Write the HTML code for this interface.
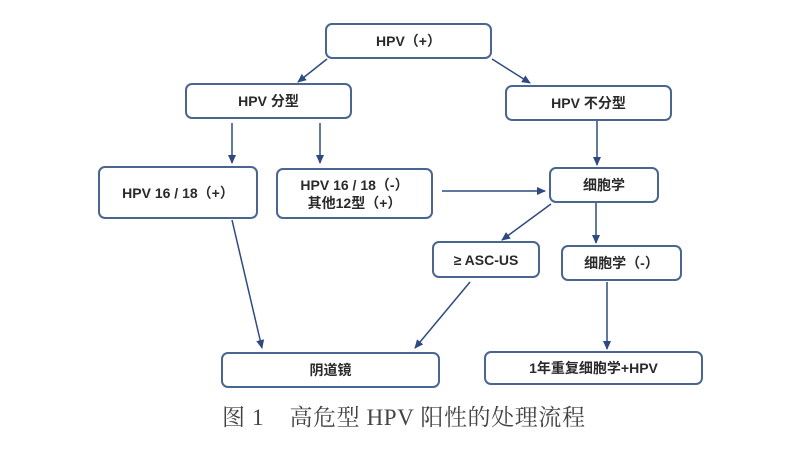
<!DOCTYPE html>
<html><head><meta charset="utf-8"><style>
html,body{margin:0;padding:0;background:#fff;}
body{width:804px;height:464px;overflow:hidden;position:relative;font-family:"Liberation Sans","Noto Sans CJK SC",sans-serif;}
.b{position:absolute;box-sizing:border-box;border:2px solid #4a6590;border-radius:7px;display:flex;align-items:center;justify-content:center;text-align:center;font-size:14px;font-weight:bold;color:#2a2a2a;line-height:18px;background:#fff;}
.cap{position:absolute;left:222px;top:399px;font-family:"Liberation Serif","Noto Serif CJK SC",serif;font-size:23px;letter-spacing:0.6px;color:#444;white-space:pre;}
svg{position:absolute;left:0;top:0;}
</style></head><body>
<svg width="804" height="464">
<defs><marker id="a" markerWidth="10" markerHeight="10" refX="8" refY="5" orient="auto" markerUnits="userSpaceOnUse"><path d="M0,1 L9,5 L0,9 Z" fill="#2f4a80"/></marker></defs>
<g stroke="#2f4a80" stroke-width="1.5" fill="none" marker-end="url(#a)">
<line x1="327" y1="59" x2="298" y2="82"/>
<line x1="492" y1="59" x2="530" y2="83"/>
<line x1="232" y1="123" x2="232" y2="163"/>
<line x1="320" y1="123" x2="320" y2="163"/>
<line x1="597" y1="121" x2="597" y2="165"/>
<line x1="442" y1="191" x2="545" y2="191"/>
<line x1="551" y1="204" x2="502" y2="240"/>
<line x1="596" y1="203" x2="596" y2="243"/>
<line x1="232" y1="220" x2="262" y2="348"/>
<line x1="470" y1="282" x2="415" y2="348"/>
<line x1="607" y1="282" x2="607" y2="349"/>
</g></svg>
<div class="b" style="left:325px;top:23px;width:167px;height:36px;">HPV（+）</div>
<div class="b" style="left:185px;top:83px;width:167px;height:36px;">HPV 分型</div>
<div class="b" style="left:505px;top:85px;width:167px;height:36px;">HPV 不分型</div>
<div class="b" style="left:98px;top:166px;width:160px;height:53px;">HPV 16 / 18（+）</div>
<div class="b" style="left:276px;top:168px;width:157px;height:51px;">HPV 16 / 18（-）<br>其他12型（+）</div>
<div class="b" style="left:549px;top:167px;width:110px;height:36px;">细胞学</div>
<div class="b" style="left:432px;top:241px;width:108px;height:37px;">≥ ASC-US</div>
<div class="b" style="left:561px;top:245px;width:121px;height:36px;">细胞学（-）</div>
<div class="b" style="left:221px;top:352px;width:219px;height:36px;">阴道镜</div>
<div class="b" style="left:484px;top:351px;width:219px;height:34px;">1年重复细胞学+HPV</div>
<div class="cap">图 1    高危型 HPV 阳性的处理流程</div>
</body></html>
